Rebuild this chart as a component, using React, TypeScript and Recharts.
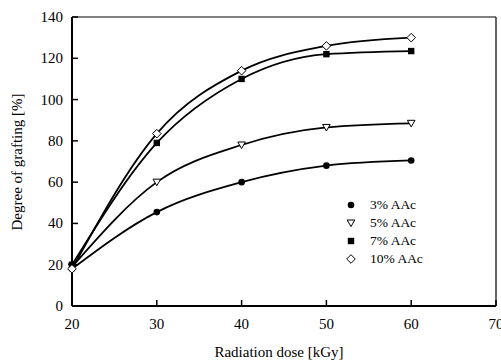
import { LineChart, Line, XAxis, YAxis, ReferenceLine, Legend } from "recharts";

const doses = [20, 30, 40, 50, 60];
const aac3 = [18, 45.5, 60, 68, 70.5];
const aac5 = [19, 60, 78, 86.5, 88.5];
const aac7 = [20, 79, 110, 122, 123.5];
const aac10 = [18, 83.5, 114, 126, 130];
const xTicks = [20, 30, 40, 50, 60, 70];
const yTicks = [0, 20, 40, 60, 80, 100, 120, 140];

const series = [
  { key: "a3", name: "3% AAc", marker: "circle" },
  { key: "a5", name: "5% AAc", marker: "triangle" },
  { key: "a7", name: "7% AAc", marker: "square" },
  { key: "a10", name: "10% AAc", marker: "diamond" },
];

const data = doses.map((d, i) => ({
  dose: d,
  a3: aac3[i],
  a5: aac5[i],
  a7: aac7[i],
  a10: aac10[i],
}));

const FONT = '"Liberation Serif", "Times New Roman", serif';

function Marker({ kind, cx, cy }: { kind: string; cx: number; cy: number }) {
  if (kind === "circle") return <circle cx={cx} cy={cy} r={3.3} fill="#000" />;
  if (kind === "square")
    return <rect x={cx - 3.2} y={cy - 3.2} width={6.4} height={6.4} fill="#000" />;
  if (kind === "triangle")
    return (
      <polygon
        points={`${cx - 3.8},${cy - 3} ${cx + 3.8},${cy - 3} ${cx},${cy + 3.6}`}
        fill="#fff"
        stroke="#000"
        strokeWidth={1}
      />
    );
  return (
    <polygon
      points={`${cx},${cy - 4.3} ${cx + 4.3},${cy} ${cx},${cy + 4.3} ${cx - 4.3},${cy}`}
      fill="#fff"
      stroke="#000"
      strokeWidth={1}
    />
  );
}

const XTick = ({ x, y, payload }: any) => (
  <g>
    <line x1={x} x2={x} y1={y} y2={y - 6} stroke="#000" strokeWidth={1.5} />
    <text x={x} y={y + 23} textAnchor="middle" fontSize={15} fontFamily={FONT} fill="#000">
      {payload.value}
    </text>
  </g>
);

const YTick = ({ x, y, payload }: any) => (
  <g>
    <line x1={x} x2={x + 6} y1={y} y2={y} stroke="#000" strokeWidth={1.5} />
    <text x={x - 9} y={y + 5} textAnchor="end" fontSize={15} fontFamily={FONT} fill="#000">
      {payload.value}
    </text>
  </g>
);

// legend is drawn from the series list, placed inside the plot
const LegendBox = () => (
  <div style={{ fontFamily: FONT, fontSize: 13.5, lineHeight: "18px" }}>
    {series.map((s) => (
      <div key={s.key} style={{ display: "flex", alignItems: "center", height: 18 }}>
        <svg width={20} height={18}>
          <Marker kind={s.marker} cx={7} cy={9} />
        </svg>
        <span style={{ marginLeft: 6 }}>{s.name}</span>
      </div>
    ))}
  </div>
);

export default function App() {
  return (
    <div style={{ position: "absolute", left: 0, top: 0, width: 501, height: 360, background: "#fff" }}>
      <LineChart width={501} height={360} data={data} margin={{ top: 17, right: 5, bottom: 0, left: 0 }}>
        <XAxis
          dataKey="dose"
          type="number"
          domain={[20, 70]}
          ticks={xTicks}
          interval={0}
          height={54}
          tickSize={0}
          tickMargin={0}
          tickLine={false}
          axisLine={{ stroke: "#000", strokeWidth: 2 }}
          tick={XTick}
        />
        <YAxis
          type="number"
          domain={[0, 140]}
          ticks={yTicks}
          interval={0}
          width={72}
          tickSize={0}
          tickMargin={0}
          tickLine={false}
          axisLine={{ stroke: "#000", strokeWidth: 2 }}
          tick={YTick}
        />
        <ReferenceLine y={140} stroke="#000" strokeWidth={1.2} />
        <ReferenceLine x={70} stroke="#000" strokeWidth={1.2} />
        {series.map((s) => (
          <Line
            key={s.key}
            dataKey={s.key}
            name={s.name}
            type="monotone"
            stroke="#000"
            strokeWidth={1.8}
            isAnimationActive={false}
            dot={(p: any) => <Marker key={`${s.key}-${p.index}`} kind={s.marker} cx={p.cx} cy={p.cy} />}
            activeDot={false}
          />
        ))}
        <Legend
          layout="vertical"
          align="center"
          verticalAlign="middle"
          content={LegendBox}
          wrapperStyle={{ left: 344, top: 196, width: "auto", height: "auto" }}
        />
      </LineChart>
      <div
        style={{
          position: "absolute",
          left: 17,
          top: 162,
          transform: "translate(-50%, -50%) rotate(-90deg)",
          whiteSpace: "nowrap",
          fontFamily: FONT,
          fontSize: 15,
        }}
      >
        Degree of grafting [%]
      </div>
      <div
        style={{
          position: "absolute",
          left: 279,
          top: 352,
          transform: "translate(-50%, -50%)",
          whiteSpace: "nowrap",
          fontFamily: FONT,
          fontSize: 15,
        }}
      >
        Radiation dose [kGy]
      </div>
    </div>
  );
}
